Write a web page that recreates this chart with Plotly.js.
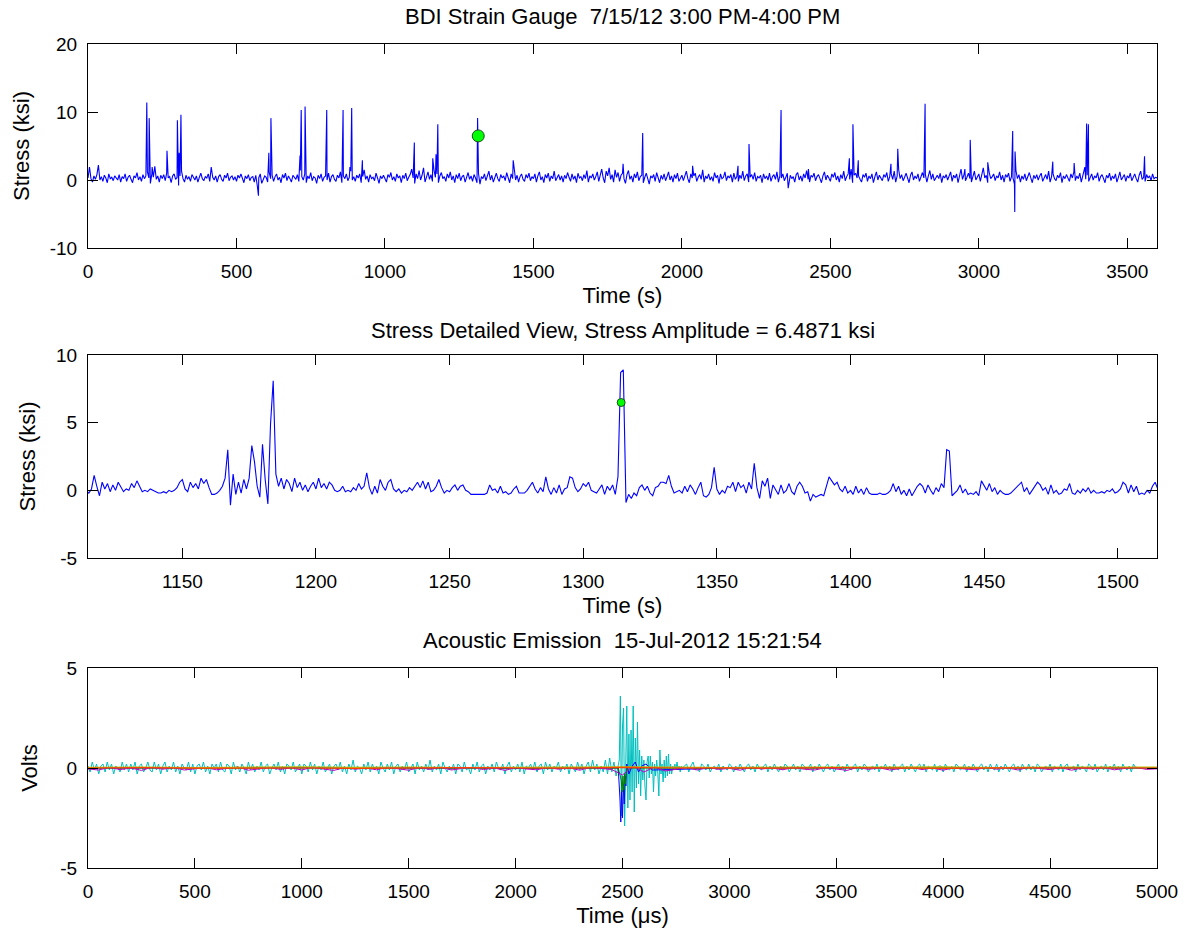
<!DOCTYPE html>
<html>
<head>
<meta charset="utf-8">
<script src="https://cdn.plot.ly/plotly-3.0.1.min.js"></script>
<style>body{margin:0;background:#fff}#chart{width:1193px;height:942px}</style>
</head>
<body>
<div id="chart"></div>
<script>
// ---------- Panel 1: BDI strain gauge, one hour ----------
const topTitle = 'BDI Strain Gauge  7/15/12 3:00 PM-4:00 PM';
const topStart = 0;          // s
const topStep = 5;           // s between baseline samples
const stressTopBaseline = [
0.3,1.9,0.2,-0.3,0.6,0.1,0.8,2.2,0.0,0.5,-0.2,0.7,0.3,-0.4,0.9,0.2,0.4,-0.1,0.6,0.3,
0.0,0.8,-0.3,0.5,0.2,0.9,-0.2,0.4,0.7,0.1,-0.4,0.6,0.3,1.1,0.0,0.5,-0.2,0.8,0.2,0.6,
1.2,0.3,-0.5,0.9,0.4,2.0,0.1,0.6,-0.3,0.7,0.2,0.8,-0.1,1.0,0.3,0.5,-0.4,0.6,0.9,0.1,
0.4,-0.8,0.6,1.3,0.2,-0.3,0.7,0.1,0.5,-0.2,0.8,0.3,0.0,0.6,-0.3,0.4,1.0,0.2,-0.1,0.5,
0.3,0.9,-0.2,1.9,0.4,0.0,0.6,-0.3,0.5,0.8,0.1,-0.2,0.7,0.3,1.0,-0.1,0.4,0.6,0.0,0.5,
-0.2,0.7,0.3,0.9,0.1,-0.4,0.6,0.2,0.8,-0.1,0.4,0.5,-0.3,0.7,-0.8,0.3,0.9,-0.5,0.2,0.6,
0.4,-0.3,1.2,0.2,0.7,-0.2,0.5,0.9,0.0,0.4,-0.4,0.8,0.3,1.0,-0.1,0.6,0.2,-0.3,0.7,0.4,
0.1,0.8,-0.2,1.4,0.5,0.0,0.9,-0.4,0.6,0.2,1.1,-0.1,0.5,0.3,-0.5,0.7,0.2,0.9,-0.2,0.4,
0.6,0.0,1.0,-0.3,0.5,0.8,0.1,-0.2,0.7,0.3,1.2,-0.4,0.6,0.2,0.9,-0.1,0.4,1.3,0.0,0.5,
-0.2,0.7,0.3,0.9,-0.4,0.5,1.5,0.1,0.6,-0.3,0.8,0.2,0.4,-0.1,1.0,0.3,-0.5,0.6,0.2,0.7,
0.1,-0.3,0.8,0.4,1.1,0.0,0.5,-0.2,0.9,0.3,0.6,-0.4,0.7,0.2,1.0,-0.1,0.4,0.8,1.6,0.3,
-0.5,0.9,0.2,1.4,0.0,0.7,1.8,-0.3,0.6,1.2,0.1,0.8,-0.2,1.5,0.4,0.9,-0.4,0.6,1.1,0.2,
0.5,-0.2,0.9,0.3,1.2,0.0,0.6,-0.4,0.8,0.2,1.0,-0.1,0.5,0.7,-0.3,0.4,1.1,0.1,0.6,-0.2,
0.8,0.3,-0.4,1.0,-0.6,0.5,0.2,0.9,-0.1,0.6,1.3,0.0,0.7,-0.3,0.4,1.0,0.2,-0.2,0.8,0.3,
0.6,-0.1,1.1,0.4,-0.4,0.9,0.2,1.5,0.0,0.7,-0.3,0.5,0.9,0.1,-0.2,0.8,0.3,1.0,-0.1,0.5,
0.2,0.9,-0.3,0.6,1.2,0.0,0.5,-0.4,0.8,0.3,1.0,-0.2,0.6,0.2,1.3,-0.1,0.4,0.8,0.0,0.6,
-0.3,0.7,0.2,1.1,0.4,-0.2,0.9,0.1,0.6,-0.4,1.0,0.3,0.5,-0.1,0.8,0.2,1.4,-0.3,0.6,0.3,
0.9,0.0,0.5,1.2,-0.2,0.7,1.6,0.3,-0.4,1.3,0.6,1.8,0.1,0.8,-0.3,1.5,0.4,1.1,-0.2,0.7,
1.0,0.2,-0.5,0.8,1.4,0.1,0.6,-0.3,0.9,0.3,1.2,-0.1,0.5,0.7,-0.4,0.4,1.0,0.2,-0.6,0.6,
0.3,0.8,-0.2,1.1,0.4,-0.4,0.7,0.1,0.9,-0.1,0.5,1.2,0.0,0.6,-0.3,0.8,0.2,1.0,-0.2,0.4,
0.7,-0.1,0.5,1.3,0.2,-0.4,0.9,0.3,0.6,1.0,-0.2,0.4,0.8,0.1,1.5,-0.3,0.6,0.2,0.9,0.0,
0.5,-0.2,1.1,0.3,0.7,-0.5,0.9,0.2,0.4,1.2,-0.1,0.6,0.3,0.8,-0.3,1.0,0.1,0.5,-0.2,0.7,
0.2,1.3,-0.1,0.6,0.9,-0.3,0.4,0.8,0.1,1.1,-0.2,0.5,0.3,0.7,-0.4,0.9,0.2,0.6,0.0,1.0,
-0.2,0.5,0.8,0.1,1.2,-0.3,0.6,0.3,0.9,-0.1,0.4,1.0,-0.8,0.7,0.2,0.5,-0.3,0.8,1.1,0.0,
0.6,-0.2,0.9,0.3,1.4,0.1,-0.3,0.7,0.4,1.0,-0.1,0.5,0.8,0.2,-0.4,0.6,1.2,0.0,0.7,0.3,
-0.2,0.9,0.4,1.1,0.0,0.6,-0.3,0.8,0.2,1.3,-0.1,0.5,0.9,0.1,1.6,-0.4,0.7,1.0,0.3,0.6,
0.1,-0.3,0.8,0.4,1.0,-0.2,0.6,0.2,0.9,-0.4,0.5,1.2,0.0,0.7,0.3,-0.1,0.8,0.4,1.1,-0.2,
0.5,0.9,0.1,1.3,-0.3,0.6,1.5,0.2,0.8,-0.1,0.4,1.0,0.3,-0.4,0.7,1.2,0.0,0.6,0.2,0.9,
-0.2,0.5,1.1,0.3,0.8,-0.3,0.6,1.4,0.1,0.9,-0.1,0.4,0.7,0.2,1.0,-0.4,0.6,0.3,0.8,0.0,
0.5,1.2,-0.2,0.7,0.3,0.9,-0.4,0.6,1.6,0.1,0.8,-0.1,0.4,1.0,0.2,-0.3,0.7,1.3,0.0,0.5,
0.9,-0.2,0.6,1.8,0.3,0.7,-0.4,1.1,0.2,0.5,0.9,-0.1,0.6,0.3,1.2,0.0,0.7,-0.3,0.8,0.4,
1.0,-0.2,0.5,0.3,-0.6,1.4,0.2,0.8,-0.3,0.6,0.1,0.9,-0.1,0.5,1.1,0.3,-0.4,0.7,0.2,0.8,
0.0,0.6,1.0,-0.2,0.4,0.8,0.1,1.3,-0.3,0.5,0.9,0.2,-0.1,0.7,0.3,1.1,-0.4,0.6,0.2,0.8,
0.4,-0.2,0.9,0.3,1.2,-0.1,0.6,0.2,1.0,-0.3,0.5,1.4,0.1,0.7,-0.2,0.4,0.9,0.0,0.6,0.3,
1.1,-0.2,0.5,0.8,0.1,-0.4,0.7,0.3,1.0,-0.1,0.6,0.2,0.9,-0.3,0.4,1.2,0.0,0.5,0.8,-0.2,
0.6,0.3,1.0,-0.1,0.5,0.9,0.2,-0.3,0.7,1.3,0.1,0.4,-0.2,0.8,0.3,0.6,-0.1,0.9,0.2,0.4,
0.3];
const spikeTimes = [198,206,216,266,301,307,313,574,609,616,714,718,731,804,859,882,888,924,1099,1161,1172,1178,1312,1432,1802,1868,2036,2189,2226,2334,2358,2426,2564,2576,2594,2704,2727,2819,2953,2971,3030,3114,3121,3122,3249,3321,3357,3363,3369,3558];
const spikeValues = [11.4,9.1,1.9,4.3,8.8,4.0,9.6,-2.3,4.0,9.1,3.6,10.3,10.8,10.3,10.3,1.9,10.6,2.9,5.5,3.2,3.8,8.2,9.1,2.9,2.4,6.9,2.1,2.1,5.3,10.3,-1.2,1.6,3.2,8.2,2.9,2.4,4.6,11.2,1.6,5.9,2.6,7.2,-4.7,4.2,2.7,2.5,1.9,8.3,8.2,3.5];
const eventTime = 1314.2;        // s
const stressAmplitude = 6.4871;  // ksi
const topXTicks = [0,500,1000,1500,2000,2500,3000,3500];
const topYTicks = [-10,0,10,20];

// ---------- Panel 2: detailed view ----------
const detailStart = 1114;   // s
const detailStep = 1;       // s
const stressDetail = [
0.0,
-0.2,0.1,1.1,0.3,-0.4,0.6,0.1,0.5,-0.1,0.4,
0.0,0.6,0.2,-0.1,0.1,0.0,0.5,0.2,0.7,0.3,
-0.1,0.0,-0.1,0.1,0.0,-0.1,-0.2,-0.2,-0.1,-0.2,
0.0,-0.1,0.0,0.2,0.6,0.8,0.1,-0.1,0.6,0.2,
0.5,0.1,0.9,0.5,0.8,0.2,-0.3,-0.3,-0.2,0.0,
0.3,0.9,3.0,-1.1,1.2,-0.3,0.6,-0.2,0.8,0.1,
0.9,3.3,2.1,0.3,-0.5,3.4,0.8,-1.0,4.9,8.1,
1.2,0.3,0.9,0.1,0.8,0.5,-0.1,0.9,0.2,0.6,
0.0,0.4,-0.1,0.3,0.6,0.1,0.9,0.2,0.5,0.1,
0.6,0.4,0.0,-0.1,0.0,0.3,-0.1,0.0,-0.1,0.2,
0.0,0.5,0.1,0.3,1.3,0.2,-0.3,0.3,-0.2,0.8,
0.3,0.0,0.6,0.8,0.1,-0.1,0.1,-0.2,0.0,-0.1,
0.2,0.0,0.3,0.6,0.2,0.7,0.1,0.6,-0.1,0.0,
0.3,0.8,0.2,-0.2,0.0,-0.1,0.2,0.4,0.0,0.3,
0.4,0.0,-0.1,-0.3,-0.3,-0.3,-0.3,-0.3,-0.3,-0.2,
0.4,0.0,0.1,-0.2,0.3,-0.2,-0.1,-0.3,-0.2,0.1,
0.3,-0.2,-0.2,-0.2,0.0,0.3,0.6,0.1,-0.2,0.2,
-0.1,1.0,0.1,-0.3,0.2,-0.2,0.4,-0.3,0.1,0.2,
1.0,0.9,0.2,-0.1,0.1,0.5,0.3,0.6,0.0,-0.1,
-0.2,0.1,0.4,-0.3,0.3,0.0,0.4,-0.3,1.0,8.7,
8.9,-0.9,-0.3,-0.6,-0.2,-0.4,0.2,0.4,0.0,0.3,
-0.2,-0.4,0.2,0.3,0.6,0.6,0.5,1.1,0.3,-0.2,
-0.1,0.0,-0.2,0.3,-0.1,0.4,0.1,-0.3,0.2,0.6,
-0.4,-0.5,-0.3,0.2,1.7,0.1,-0.3,0.0,-0.2,0.3,
0.2,0.6,-0.1,0.6,0.2,0.4,-0.2,0.6,0.1,2.0,
0.2,-0.6,0.7,0.3,0.9,-0.6,0.4,0.1,-0.3,0.4,
-0.2,0.0,0.5,-0.1,-0.3,0.3,0.6,0.3,-0.2,-0.1,
-0.8,-0.3,-0.5,-0.4,-0.3,-0.4,0.3,1.0,0.7,0.4,
0.6,0.1,-0.1,0.3,-0.2,0.0,-0.3,0.3,-0.2,0.1,
-0.3,0.2,-0.2,-0.3,-0.3,-0.3,-0.2,-0.3,-0.3,-0.2,
0.0,0.5,-0.1,0.3,-0.3,0.0,-0.4,0.1,-0.4,0.0,
0.3,0.5,0.3,-0.2,0.4,0.0,-0.3,0.2,-0.1,0.5,
0.2,3.0,2.9,-0.4,-0.2,0.0,0.4,-0.2,0.1,-0.3,
-0.2,-0.3,-0.1,-0.4,0.7,0.4,0.0,0.5,-0.1,0.2,
-0.3,0.0,-0.2,-0.3,-0.3,-0.2,0.0,0.2,0.4,0.6,
-0.1,0.2,-0.3,0.0,0.3,0.6,0.4,0.0,0.2,-0.3,
0.4,-0.2,0.0,-0.3,-0.2,0.1,0.0,0.5,-0.2,-0.3,
0.0,-0.2,0.1,-0.1,0.2,-0.2,0.0,-0.2,-0.2,-0.1,
-0.2,0.0,-0.1,0.1,-0.2,-0.1,0.1,0.6,0.4,-0.2,
0.4,-0.1,0.3,-0.3,-0.2,-0.3,0.0,-0.2,0.3,0.6,
0.1];
const detailTitle = 'Stress Detailed View, Stress Amplitude = ' + stressAmplitude + ' ksi';
const detailRange = [1114.7, 1514.7];
const detailXTicks = [1150,1200,1250,1300,1350,1400,1450,1500];
const detailYTicks = [-5,0,5,10];

// ---------- Panel 3: acoustic emission ----------
const aeTitle = 'Acoustic Emission  15-Jul-2012 15:21:54';
const aeNoiseStep = 10;     // µs
const aeCyanPre = [   // 0 .. 2480 µs
0.1,-0.2,0.3,-0.1,0.2,-0.3,0.1,0.2,-0.2,0.3,
-0.1,0.2,-0.3,0.1,0.0,-0.2,0.3,-0.1,0.2,-0.2,
0.2,-0.1,0.3,-0.3,0.1,0.2,-0.2,0.0,0.3,-0.1,
-0.2,0.3,-0.1,0.2,-0.3,0.1,0.3,-0.2,0.1,-0.1,
0.3,-0.2,0.1,-0.3,0.2,0.0,-0.1,0.3,-0.2,0.2,
-0.3,0.1,0.2,-0.1,0.3,-0.2,0.1,-0.3,0.2,0.0,
0.2,-0.2,0.3,-0.1,-0.2,0.2,0.1,-0.3,0.3,-0.1,
0.1,-0.2,0.2,0.0,-0.3,0.3,-0.1,0.2,-0.2,0.1,
-0.1,0.3,-0.2,0.1,0.2,-0.3,0.0,0.2,-0.1,0.3,
-0.2,0.1,-0.3,0.2,0.1,-0.1,0.3,-0.2,0.0,0.2,
-0.3,0.2,0.1,-0.2,0.3,-0.1,0.2,-0.3,0.1,-0.1,
0.3,-0.2,0.0,0.2,-0.3,0.1,0.2,-0.1,0.3,-0.2,
0.1,-0.3,0.2,-0.1,0.4,-0.2,0.1,0.0,-0.3,0.2,
-0.1,0.3,-0.2,0.2,-0.1,0.1,-0.3,0.3,0.0,-0.2,
0.2,-0.1,0.3,-0.3,0.1,0.2,-0.2,0.1,-0.1,0.3,
-0.2,0.0,0.2,-0.3,0.3,-0.1,0.1,-0.2,0.2,-0.1,
0.4,-0.2,0.1,-0.1,0.2,-0.3,0.3,0.0,-0.2,0.1,
-0.1,0.2,-0.3,0.2,0.1,-0.2,0.3,-0.1,0.0,-0.3,
0.2,-0.1,0.3,-0.2,0.1,0.2,-0.3,0.1,-0.1,0.2,
-0.2,0.3,0.0,-0.1,0.2,-0.3,0.1,0.3,-0.2,0.1,
-0.1,0.2,-0.2,0.3,-0.3,0.1,0.0,0.2,-0.1,0.3,
-0.2,0.1,0.2,-0.3,0.3,-0.1,0.2,-0.2,0.1,0.0,
0.3,-0.2,0.1,-0.1,0.2,-0.3,0.2,0.0,-0.2,0.3,
-0.1,0.2,-0.3,0.1,0.3,-0.2,0.4,-0.1,0.2,-0.3,
0.1,-0.2,0.4,-0.3,0.5,-0.2,0.3,-0.4,0.2];
const aeBurstStart = 2485;  // µs
const aeBurstStep = 5;      // µs
const aeCyanBurst = [
0.4,3.6,-2.4,2.1,3.0,-2.9,1.2,3.1,-2.0,1.7,
-1.6,1.9,-1.2,3.1,-2.2,1.5,-1.0,2.3,-0.8,0.9,
-1.4,0.6,-0.6,0.4,-0.9,-1.6,0.3,0.6,-0.5,0.6,
-0.3,0.3,-1.2,0.2,-0.4,0.4,-0.2,-1.4,0.9,-0.3,
0.2,-0.7,0.4,-0.5,0.6,-0.4,0.7,-0.3,0.2,-0.3,
0.1,-0.1,0.2,-0.1,0.3,-0.1,0.1,-0.2,0.1,0.0];
const aePostStart = 2800;   // µs
const aeCyanPost = [  // 2800 .. 5000 µs
0.2,-0.2,0.1,0.3,-0.1,0.0,-0.2,0.2,0.1,-0.1,
0.2,-0.2,0.0,0.1,-0.1,0.2,-0.2,0.1,0.0,-0.1,
0.2,0.1,-0.2,0.1,-0.1,0.2,0.0,-0.2,0.1,0.2,
-0.1,0.1,-0.2,0.2,0.0,-0.1,0.1,0.2,-0.2,0.1,
-0.1,0.2,0.0,-0.2,0.1,-0.1,0.2,0.1,-0.2,0.0,
0.2,-0.1,0.1,-0.2,0.2,0.1,-0.1,0.0,0.2,-0.2,
0.1,-0.1,0.2,0.0,-0.2,0.1,0.2,-0.1,0.1,-0.2,
0.0,0.2,-0.1,0.1,-0.2,0.2,0.0,-0.1,0.1,0.2,
-0.2,0.1,-0.1,0.2,0.1,-0.2,0.0,0.1,-0.1,0.2,
-0.2,0.1,0.0,0.2,-0.1,0.1,-0.2,0.2,0.0,-0.1,
0.1,0.2,-0.2,0.1,-0.1,0.2,0.0,-0.2,0.1,0.2,
-0.1,0.2,-0.2,0.1,0.0,-0.1,0.2,-0.2,0.1,0.1,
-0.2,0.2,0.0,-0.1,0.1,-0.2,0.2,0.1,-0.1,0.0,
0.2,-0.2,0.1,-0.1,0.2,0.0,-0.2,0.1,0.2,-0.1,
0.1,-0.2,0.2,0.0,-0.1,0.2,-0.2,0.1,-0.1,0.2,
0.0,-0.2,0.1,0.2,-0.1,0.1,-0.2,0.2,0.0,-0.1,
0.2,-0.1,0.1,-0.2,0.2,0.1,-0.2,0.0,0.1,-0.1,
0.2,-0.2,0.1,0.0,-0.1,0.2,-0.2,0.1,0.2,-0.1,
0.0,0.1,-0.2,0.2,-0.1,0.1,0.0,-0.2,0.2,0.1,
-0.1,0.2,-0.2,0.0,0.1,-0.1,0.2,-0.2,0.1,0.0,
0.2,-0.1,0.1,-0.2,0.2,0.0,-0.1,0.1,-0.2,0.2,
0.0];
const aeBlueTimes = [0,1000,2000,2480,2488,2492,2496,2500,2504,2508,2512,2516,2520,2530,2545,2560,2575,2590,2610,2640,3000,4000,5000];
const aeBlue = [0,0.02,-0.02,0,-1.5,-2.7,-1.1,-2.5,-0.8,-1.8,-0.4,-0.9,0.2,-0.3,0.1,0.3,-0.2,0.1,0.2,-0.1,0,0.02,0];
const aeGreenTimes = [0,2480,2494,2498,2502,2506,2510,2514,2518,2522,2535,5000];
const aeGreen = [0,0,-0.6,-1.2,-0.4,-1.1,-0.3,-0.8,-0.2,0.1,0,0];
const aeSmallStep = 50;     // µs
const aeMagenta = [
-0.05,-0.1,0.03,-0.08,0.0,-0.12,0.04,-0.06,0.02,-0.1,
-0.04,0.03,-0.09,-0.02,0.05,-0.11,-0.03,0.02,-0.07,0.01,
-0.1,0.04,-0.05,-0.12,0.02,-0.06,0.0,-0.09,0.03,-0.04,
-0.11,0.02,-0.07,0.04,-0.1,-0.02,0.03,-0.08,0.0,-0.12,
0.02,-0.05,-0.09,0.03,-0.06,0.01,-0.11,0.04,-0.03,-0.08,
-0.35,0.1,-0.2,0.05,-0.15,-0.06,0.02,-0.1,0.03,-0.07,
-0.02,-0.11,0.04,-0.05,0.0,-0.09,0.03,-0.06,-0.1,0.02,
-0.04,-0.12,0.03,-0.07,0.01,-0.1,-0.03,0.04,-0.08,0.0,
-0.11,0.02,-0.05,-0.09,0.03,-0.06,0.01,-0.1,0.04,-0.03,
-0.08,0.02,-0.11,0.0,-0.05,0.03,-0.09,-0.02,0.04,-0.07,
-0.04];
const aeLargeStep = 250;    // µs
const aeRed = [0.0,0.02,-0.01,0.01,0.0,-0.02,0.01,0.02,0.0,-0.01,0.03,0.0,0.01,-0.01,0.02,0.0,-0.02,0.01,0.0,0.01,0.0];
const aeYellow = [0.03,0.05,0.02,0.04,0.06,0.03,0.05,0.02,0.04,0.03,0.06,0.04,0.02,0.05,0.03,0.04,0.06,0.02,0.05,0.03,0.04];
const aeXTicks = [0,500,1000,1500,2000,2500,3000,3500,4000,4500,5000];
const aeYTicks = [-5,0,5];

// ---------- helpers: build traces from the arrays ----------
function uniformX(start, step, n) { const x = []; for (let i = 0; i < n; i++) x.push(start + i * step); return x; }
function mergeSpikes(xs, ys, tx, ty) {
  const pts = xs.map((x, i) => [x, ys[i]]);
  tx.forEach((t, i) => pts.push([t, ty[i]]));
  pts.sort((a, b) => a[0] - b[0]);
  return { x: pts.map(p => p[0]), y: pts.map(p => p[1]) };
}
const hyphen = v => String(v).replace('\u2212', '-');

const topBaseX = uniformX(topStart, topStep, stressTopBaseline.length);
const topSeries = mergeSpikes(topBaseX, stressTopBaseline, spikeTimes, spikeValues);
const detailX = uniformX(detailStart, detailStep, stressDetail.length);
const cyanX = uniformX(0, aeNoiseStep, aeCyanPre.length)
  .concat(uniformX(aeBurstStart, aeBurstStep, aeCyanBurst.length))
  .concat(uniformX(aePostStart, aeNoiseStep, aeCyanPost.length));
const cyanY = aeCyanPre.concat(aeCyanBurst).concat(aeCyanPost);

const lineBlue = { color: '#0000FF', width: 1.1 };
const traces = [
  { x: topSeries.x, y: topSeries.y, xaxis: 'x', yaxis: 'y', mode: 'lines', line: lineBlue },
  { x: [eventTime], y: [stressAmplitude], xaxis: 'x', yaxis: 'y', mode: 'markers',
    marker: { color: '#00FF00', size: 12, line: { color: '#1a4d1a', width: 1 } } },
  { x: detailX, y: stressDetail, xaxis: 'x2', yaxis: 'y2', mode: 'lines', line: lineBlue },
  { x: [eventTime], y: [stressAmplitude], xaxis: 'x2', yaxis: 'y2', mode: 'markers',
    marker: { color: '#00FF00', size: 8, line: { color: '#1a4d1a', width: 1 } } },
  { x: cyanX, y: cyanY, xaxis: 'x3', yaxis: 'y3', mode: 'lines', line: { color: '#00BFBF', width: 1 } },
  { x: aeBlueTimes, y: aeBlue, xaxis: 'x3', yaxis: 'y3', mode: 'lines', line: { color: '#0000FF', width: 1 } },
  { x: aeGreenTimes, y: aeGreen, xaxis: 'x3', yaxis: 'y3', mode: 'lines', line: { color: '#008000', width: 1 } },
  { x: uniformX(0, aeSmallStep, aeMagenta.length), y: aeMagenta, xaxis: 'x3', yaxis: 'y3', mode: 'lines', line: { color: '#BF00BF', width: 1 } },
  { x: uniformX(0, aeLargeStep, aeYellow.length), y: aeYellow, xaxis: 'x3', yaxis: 'y3', mode: 'lines', line: { color: '#BFBF00', width: 1.2 } },
  { x: uniformX(0, aeLargeStep, aeRed.length), y: aeRed, xaxis: 'x3', yaxis: 'y3', mode: 'lines', line: { color: '#FF4000', width: 1.2 } }
];

const FONT = 'Liberation Sans, Arial, Helvetica, sans-serif';
function ax(ticks, extra) {
  return Object.assign({
    showline: true, linecolor: '#000', linewidth: 1, mirror: 'ticks',
    ticks: 'inside', ticklen: 10, tickwidth: 1, tickcolor: '#000',
    showgrid: false, zeroline: false, fixedrange: true,
    tickmode: 'array', tickvals: ticks, ticktext: ticks.map(hyphen),
    tickfont: { family: FONT, size: 19, color: '#000' }
  }, extra);
}
function axTitle(text, standoff) { return { text: text, standoff: standoff, font: { family: FONT, size: 22, color: '#000' } }; }

const layout = {
  width: 1193, height: 942,
  margin: { l: 88, r: 36, t: 44, b: 74 },
  paper_bgcolor: '#fff', plot_bgcolor: '#fff',
  showlegend: false,
  font: { family: FONT, size: 19, color: '#000' },
  xaxis: ax(topXTicks, { anchor: 'y', domain: [0, 1], range: [0, 3600], ticklabelstandoff: 6, title: axTitle('Time (s)', 6) }),
  yaxis: ax(topYTicks, { anchor: 'x', domain: [0.7524, 1], range: [-10, 20], ticklabelstandoff: 6, title: axTitle('Stress (ksi)', 14) }),
  xaxis2: ax(detailXTicks, { anchor: 'y2', domain: [0, 1], range: detailRange, ticklabelstandoff: 6, title: axTitle('Time (s)', 6) }),
  yaxis2: ax(detailYTicks, { anchor: 'x2', domain: [0.3762, 0.6226], range: [-5, 10], ticklabelstandoff: 6, title: axTitle('Stress (ksi)', 14) }),
  xaxis3: ax(aeXTicks, { anchor: 'y3', domain: [0, 1], range: [0, 5000], ticklabelstandoff: 6, title: axTitle('Time (μs)', 6) }),
  yaxis3: ax(aeYTicks, { anchor: 'x3', domain: [0, 0.2427], range: [-5, 5], ticklabelstandoff: 6, title: axTitle('Volts', 16) }),
  annotations: [
    { text: topTitle, xref: 'paper', yref: 'paper', x: 0.5, y: 1.0328, xanchor: 'center', yanchor: 'middle', showarrow: false, font: { family: FONT, size: 22 } },
    { text: detailTitle, xref: 'paper', yref: 'paper', x: 0.5, y: 0.6517, xanchor: 'center', yanchor: 'middle', showarrow: false, font: { family: FONT, size: 22 } },
    { text: aeTitle, xref: 'paper', yref: 'paper', x: 0.5, y: 0.2755, xanchor: 'center', yanchor: 'middle', showarrow: false, font: { family: FONT, size: 22 } }
  ]
};

Plotly.newPlot('chart', traces, layout, { staticPlot: true, displayModeBar: false });
</script>
</body>
</html>
